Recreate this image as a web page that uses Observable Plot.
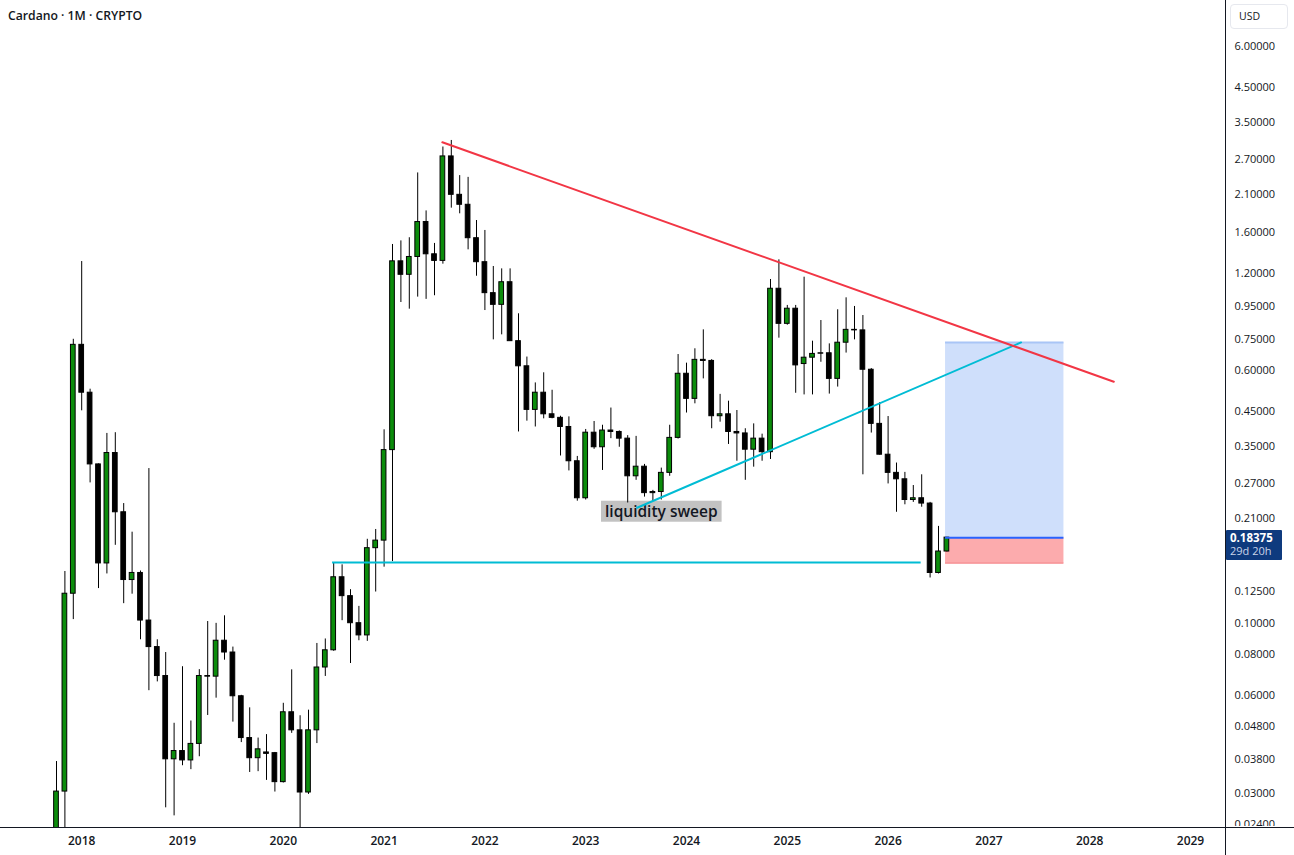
<!DOCTYPE html>
<html>
<head>
<meta charset="utf-8">
<script src="https://cdn.jsdelivr.net/npm/d3@7"></script>
<script src="https://cdn.jsdelivr.net/npm/@observablehq/plot@0.6"></script>
<style>
  html, body { margin: 0; padding: 0; background: #ffffff; }
  #wrap { position: relative; width: 1294px; height: 855px; overflow: hidden; font-family: "Open Sans", "Noto Sans", sans-serif; color: #131722; }
  #wrap svg { position: absolute; left: 0; top: 0; }
  .title { position: absolute; left: 8px; top: 7px; font-size: 12.2px; font-weight: 600; color: #131722; white-space: nowrap; }
  .usd { position: absolute; left: 1230px; top: 4px; width: 58px; height: 25px; box-sizing: border-box; border: 1px solid #e6e8ee; border-radius: 4px; font-size: 10.5px; line-height: 23px; padding-left: 8px; color: #131722; background: #fff; }
  .vline { position: absolute; left: 1225px; top: 0; width: 1px; height: 855px; background: #131722; }
  .hline { position: absolute; left: 0; top: 827px; width: 1294px; height: 1px; background: #131722; }
  .cover { position: absolute; left: 1226px; top: 826px; width: 68px; height: 29px; background: #fff; }
  .tag { position: absolute; left: 1226px; width: 56px; height: 30px; background: #0e3a7e; border-radius: 1px; box-sizing: border-box; padding: 1px 0 0 4px; }
  .tag .p { font-size: 11.5px; font-weight: 700; color: #ffffff; line-height: 13px; }
  .tag .t { font-size: 11px; color: #c9d3e8; line-height: 14px; }
</style>
</head>
<body>
<div id="wrap"></div>
<script>
// ---------- data (monthly candles from 2017-10) ----------
const startMonth = "2017-10";
const opens = [
  0.021, 0.0303, 0.1234,                                                                   // 2017 Oct-Dec
  0.722, 0.514, 0.309, 0.153, 0.335, 0.220, 0.136, 0.143, 0.102, 0.0845, 0.0688, 0.0381,  // 2018
  0.0404, 0.0378, 0.0425, 0.0688, 0.0685, 0.0884, 0.0813, 0.0596, 0.0443, 0.0384, 0.0400, 0.0398, // 2019
  0.0324, 0.0532, 0.0468, 0.0301, 0.0468, 0.0731, 0.0826, 0.1387, 0.1213, 0.1001, 0.0918, 0.1705, // 2020
  0.1799, 0.342, 1.306, 1.187, 1.347, 1.726, 1.373, 1.31, 2.75, 2.094, 1.951, 1.539,      // 2021
  1.298, 1.042, 0.959, 1.126, 0.741, 0.62, 0.455, 0.514, 0.441, 0.43, 0.403, 0.316,        // 2022
  0.243, 0.387, 0.349, 0.393, 0.389, 0.371, 0.284, 0.304, 0.252, 0.254, 0.291, 0.373,      // 2023
  0.588, 0.492, 0.649, 0.644, 0.435, 0.441, 0.389, 0.385, 0.343, 0.371, 0.337, 1.075,      // 2024
  0.838, 0.933, 0.63, 0.659, 0.68, 0.68, 0.567, 0.733, 0.803, 0.80, 0.605, 0.412,          // 2025
  0.331, 0.291, 0.278, 0.240, 0.243, 0.234, 0.143, 0.1665                                 // 2026 Jan-Aug
];
const highs = [
  0.0375, 0.1445, 0.751,
  1.304, 0.527, 0.31, 0.385, 0.387, 0.234, 0.191, 0.145, 0.30, 0.089, 0.0813, 0.0492,
  0.0735, 0.050, 0.072, 0.1013, 0.100, 0.1055, 0.0845, 0.060, 0.0549, 0.0443, 0.0454, 0.040,
  0.0567, 0.0719, 0.0519, 0.054, 0.0867, 0.0895, 0.1534, 0.1515, 0.127, 0.1128, 0.1816, 0.1947,
  0.395, 1.472, 1.51, 1.544, 2.446, 1.868, 1.483, 2.94, 3.08, 2.40, 2.37, 1.745,
  1.626, 1.259, 1.238, 1.238, 0.9, 0.662, 0.551, 0.592, 0.523, 0.435, 0.433, 0.327,
  0.396, 0.419, 0.408, 0.461, 0.392, 0.379, 0.377, 0.309, 0.257, 0.301, 0.408, 0.674,
  0.634, 0.702, 0.803, 0.65, 0.508, 0.484, 0.453, 0.398, 0.412, 0.383, 1.148, 1.32,
  0.955, 0.955, 1.167, 0.741, 0.858, 0.727, 0.926, 1.008, 0.948, 0.889, 0.61, 0.479,
  0.434, 0.312, 0.292, 0.266, 0.287, 0.236, 0.199, 0.184
];
const lows = [
  0.018, 0.023, 0.1027,
  0.452, 0.271, 0.128, 0.142, 0.174, 0.115, 0.123, 0.089, 0.062, 0.066, 0.027, 0.0255,
  0.0364, 0.0354, 0.0388, 0.052, 0.0588, 0.077, 0.0496, 0.0429, 0.0347, 0.0349, 0.0328, 0.0302,
  0.0322, 0.0458, 0.0177, 0.0297, 0.0426, 0.0686, 0.082, 0.1019, 0.0752, 0.0884, 0.088, 0.1249,
  0.149, 0.155, 0.975, 0.93, 1.013, 0.997, 1.023, 1.28, 1.905, 1.83, 1.417, 1.175,
  0.921, 0.748, 0.775, 0.74, 0.389, 0.42, 0.403, 0.427, 0.427, 0.328, 0.295, 0.238,
  0.24, 0.344, 0.296, 0.371, 0.349, 0.235, 0.276, 0.245, 0.238, 0.24, 0.284, 0.37,
  0.445, 0.475, 0.567, 0.398, 0.417, 0.356, 0.316, 0.276, 0.303, 0.316, 0.32, 0.757,
  0.83, 0.512, 0.506, 0.506, 0.638, 0.509, 0.535, 0.681, 0.748, 0.287, 0.386, 0.33,
  0.269, 0.220, 0.232, 0.236, 0.228, 0.138, 0.142, 0.166
];
const closes = [
  0.0303, 0.1234, 0.722,
  0.514, 0.309, 0.153, 0.335, 0.220, 0.136, 0.143, 0.102, 0.0845, 0.0688, 0.0381, 0.0404,
  0.0378, 0.0425, 0.0688, 0.0685, 0.0884, 0.0813, 0.0596, 0.0443, 0.0384, 0.0409, 0.0396, 0.0324,
  0.0532, 0.0468, 0.0301, 0.0468, 0.0731, 0.0826, 0.1387, 0.1213, 0.1001, 0.0918, 0.1705, 0.1799,
  0.342, 1.306, 1.187, 1.347, 1.726, 1.373, 1.31, 2.75, 2.094, 1.951, 1.539, 1.298,
  1.042, 0.959, 1.126, 0.741, 0.62, 0.455, 0.514, 0.441, 0.430, 0.403, 0.316, 0.243,
  0.387, 0.349, 0.393, 0.389, 0.371, 0.284, 0.304, 0.252, 0.254, 0.291, 0.373, 0.588,
  0.492, 0.649, 0.644, 0.435, 0.441, 0.389, 0.385, 0.343, 0.371, 0.337, 1.075, 0.838,
  0.933, 0.624, 0.659, 0.677, 0.678, 0.567, 0.733, 0.803, 0.80, 0.605, 0.412, 0.331,
  0.291, 0.278, 0.240, 0.243, 0.234, 0.143, 0.1665, 0.18375
];

// drawings
const resistanceDates = ["2021-07-30", "2028-03-28"];
const resistancePrices = [3.04, 0.5555];
const supportDates = ["2023-07-05", "2027-04-26"];
const supportPrices = [0.2272, 0.7344];
const levelDates = ["2020-06-27", "2026-04-29"];
const levelPrice = 0.154;
const positionDates = ["2026-07-27", "2027-09-29"];
const entryPrice = 0.18375, targetPrice = 0.7344, stopPrice = 0.1534;
const sweepLabel = { date: "2023-10-01", price: 0.22, text: "liquidity sweep" };

// axis ticks (the 0.16000 label sits hidden under the price tag in the original)
const yTicks = [6, 4.5, 3.5, 2.7, 2.1, 1.6, 1.2, 0.95, 0.75, 0.6, 0.45, 0.35, 0.27, 0.21, 0.125, 0.1, 0.08, 0.06, 0.048, 0.038, 0.03, 0.024];
const years = [2018, 2019, 2020, 2021, 2022, 2023, 2024, 2025, 2026, 2027, 2028, 2029];

// ---------- helpers ----------
const [sy, sm] = startMonth.split("-").map(Number);
function toK(s) {
  const [y, m, d] = s.split("-").map(Number);
  const dim = new Date(Date.UTC(y, m, 0)).getUTCDate();
  return (y - sy) * 12 + (m - sm) + (d - 1) / dim;
}
const candles = opens.map((o, i) => ({ k: i, open: o, high: highs[i], low: lows[i], close: closes[i] }));
const yearTicks = years.map(y => toK(`${y}-01-01`));
const resistance = resistanceDates.map((d, i) => ({ k: toK(d), price: resistancePrices[i] }));
const support = supportDates.map((d, i) => ({ k: toK(d), price: supportPrices[i] }));
const level = [{ k1: toK(levelDates[0]), k2: toK(levelDates[1]), price: levelPrice }];
const pk1 = toK(positionDates[0]), pk2 = toK(positionDates[1]);
const green = "#0b8c0b";

const chart = Plot.plot({
  width: 1294,
  height: 855,
  marginTop: 0,
  marginRight: 69,
  marginBottom: 28,
  marginLeft: 0,
  style: { fontFamily: "'Open Sans', 'Noto Sans', sans-serif", background: "#ffffff", color: "#131722", overflow: "visible" },
  x: { type: "linear", domain: [-56 / 8.4, (1225 - 56) / 8.4] },
  y: { type: "log", domain: [0.02348, 8.317] },
  marks: [
    Plot.axisY(yTicks, { anchor: "right", tickSize: 0, tickPadding: 9, tickFormat: d3.format(".5f"), fontSize: 11, fill: "#131722", label: null }),
    Plot.axisX(yearTicks, { anchor: "bottom", tickSize: 0, tickPadding: 9, tickFormat: k => String(years[0] + Math.round((k - yearTicks[0]) / 12)), fontSize: 12, fontWeight: 600, fill: "#131722", label: null }),
    // position tool
    Plot.rect([0], { x1: pk1, x2: pk2, y1: entryPrice, y2: targetPrice, fill: "#cfdffb" }),
    Plot.rect([0], { x1: pk1, x2: pk2, y1: stopPrice, y2: entryPrice, fill: "#fcabad" }),
    Plot.ruleY([targetPrice], { x1: pk1, x2: pk2, stroke: "#a9c5f6", strokeWidth: 2 }),
    Plot.ruleY([stopPrice], { x1: pk1, x2: pk2, stroke: "#f6888c", strokeWidth: 1.5 }),
    // label
    Plot.text([sweepLabel], { x: d => toK(d.date), y: "price", text: "text", ariaLabel: "sweep-label", fontSize: 15.5, fontWeight: 600, fill: "#131722" }),
    // candles
    Plot.ruleX(candles, { x: "k", y1: "low", y2: "high", stroke: "#000", strokeWidth: 1, clip: true }),
    Plot.rect(candles, { x1: d => d.k - 0.28, x2: d => d.k + 0.28, y1: "open", y2: "close", fill: d => d.close >= d.open ? green : "#000", stroke: "#000", strokeWidth: 1, clip: true }),
    // drawings
    Plot.ruleY(level, { y: "price", x1: "k1", x2: "k2", stroke: "#00bcd4", strokeWidth: 2 }),
    Plot.line(support, { x: "k", y: "price", stroke: "#00bcd4", strokeWidth: 2 }),
    Plot.line(resistance, { x: "k", y: "price", stroke: "#f23645", strokeWidth: 2 }),
    Plot.ruleY([entryPrice], { x1: pk1, x2: pk2, stroke: "#2962ff", strokeWidth: 2 })
  ]
});

const wrap = document.getElementById("wrap");
wrap.appendChild(chart);

// label background box behind the label text
(function () {
  let g = chart.querySelector('g[aria-label="sweep-label"]');
  let t = g ? g.querySelector("text") : null;
  if (!t) {
    t = Array.from(chart.querySelectorAll("text")).find(e => e.textContent === sweepLabel.text);
  }
  if (t) {
    const bb = t.getBBox();
    const r = document.createElementNS("http://www.w3.org/2000/svg", "rect");
    r.setAttribute("x", bb.x - 4);
    r.setAttribute("y", bb.y + 0.5);
    r.setAttribute("width", bb.width + 8);
    r.setAttribute("height", bb.height - 1);
    r.setAttribute("fill", "#c2c2c2");
    const tr = t.getAttribute("transform");
    if (tr) r.setAttribute("transform", tr);
    t.parentNode.insertBefore(r, t);
  }
})();

function addDiv(cls, html, style) {
  const d = document.createElement("div");
  d.className = cls;
  if (html) d.innerHTML = html;
  if (style) Object.assign(d.style, style);
  wrap.appendChild(d);
  return d;
}
addDiv("title", "Cardano · 1M · CRYPTO");
addDiv("cover");
addDiv("vline");
addDiv("hline");
addDiv("usd", "USD");
const yTag = chart.scale("y").apply(entryPrice);
addDiv("tag", '<div class="p">' + d3.format(".5f")(closes[closes.length - 1]) + '</div><div class="t">29d 20h</div>', { top: (yTag - 7) + "px" });
</script>
</body>
</html>
